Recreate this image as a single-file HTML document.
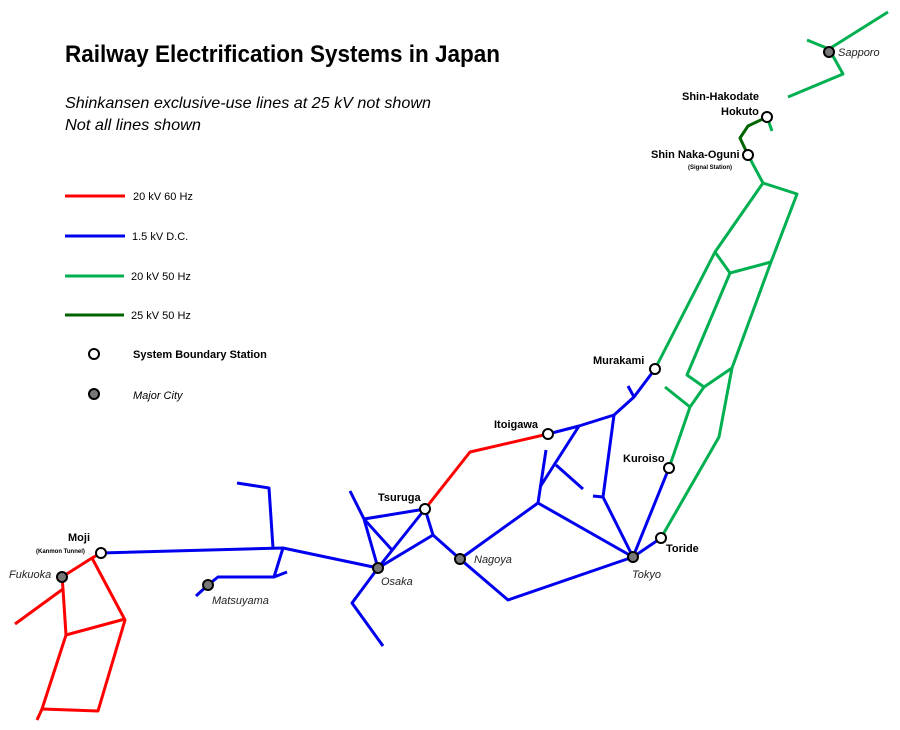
<!DOCTYPE html>
<html><head><meta charset="utf-8"><style>html,body{margin:0;padding:0;background:#fff}svg{display:block}</style></head>
<body>
<svg width="900" height="730" viewBox="0 0 900 730" xmlns="http://www.w3.org/2000/svg" font-family="Liberation Sans, sans-serif">
<text x="65" y="62" font-size="24" font-weight="bold" textLength="435" lengthAdjust="spacingAndGlyphs">Railway Electrification Systems in Japan</text>
<text x="65" y="108" font-size="16" font-style="italic" textLength="366" lengthAdjust="spacingAndGlyphs">Shinkansen exclusive-use lines at 25 kV not shown</text>
<text x="65" y="130" font-size="16" font-style="italic" textLength="136" lengthAdjust="spacingAndGlyphs">Not all lines shown</text>
<g stroke-width="3">
<line x1="65" y1="196" x2="125" y2="196" stroke="#ff0000"/>
<line x1="65" y1="236" x2="125" y2="236" stroke="#0000ee"/>
<line x1="65" y1="276" x2="124" y2="276" stroke="#00b050"/>
<line x1="65" y1="315" x2="124" y2="315" stroke="#006400"/>
</g>
<g font-size="11">
<text x="133" y="200">20 kV 60 Hz</text>
<text x="132" y="240">1.5 kV D.C.</text>
<text x="131" y="280">20 kV 50 Hz</text>
<text x="131" y="319">25 kV 50 Hz</text>
<text x="133" y="358" font-weight="bold">System Boundary Station</text>
<text x="133" y="399" font-style="italic">Major City</text>
</g>
<g fill="none" stroke-width="3" stroke-linejoin="round">
<!-- red -->
<g stroke="#ff0000">
<polyline points="62,577 92,558 125,620 98,711 42,709 37,720"/>
<polyline points="62,577 63,589 66,635 125,619"/>
<polyline points="63,589 15,624"/>
<polyline points="66,635 42,709"/>
<polyline points="92,558 101,553"/>
<polyline points="425,509 470,452 548,434"/>
</g>
<!-- blue -->
<g stroke="#0000ee">
<polyline points="101,553 283,548 378,568"/>
<polyline points="237,483 269,488 273,548"/>
<polyline points="283,548 274,577 287,572"/>
<polyline points="274,577 218,577 208,585 196,596"/>
<polyline points="350,491 364,519 378,568"/>
<polyline points="364,519 425,509"/>
<polyline points="364,519 392,550"/>
<polyline points="378,568 425,509 433,535 378,568"/>
<polyline points="433,535 460,559 508,600 633,557"/>
<polyline points="378,568 352,603 383,646"/>
<polyline points="460,559 538,503 633,557"/>
<polyline points="548,434 579,426 614,415 634,397 655,369"/>
<polyline points="634,397 628,386"/>
<polyline points="614,415 603,497 633,557"/>
<polyline points="593,496 603,497"/>
<polyline points="579,426 540,487"/>
<polyline points="546,450 538,503"/>
<polyline points="556,465 583,489"/>
<polyline points="633,557 669,468"/>
<polyline points="633,557 661,538"/>
</g>
<!-- green -->
<g stroke="#00b050">
<polyline points="807,40 829,49 888,12"/>
<polyline points="829,49 843,74 788,97"/>
<polyline points="767,117 772,131"/>
<polyline points="748,155 763,183 797,194 771,262 732,368 719,437 661,538"/>
<polyline points="763,183 715,252 655,369"/>
<polyline points="715,252 730,273 771,262"/>
<polyline points="730,273 687,375 704,387 732,368"/>
<polyline points="704,387 690,407 669,468"/>
<polyline points="690,407 665,387"/>
</g>
<polyline stroke="#006400" points="767,117 748,126 740,138 748,155"/>
</g>
<!-- stations -->
<g stroke="#000" stroke-width="2" fill="#fff">
<circle cx="94" cy="354" r="5"/>
<circle cx="101" cy="553" r="5"/>
<circle cx="425" cy="509" r="5"/>
<circle cx="548" cy="434" r="5"/>
<circle cx="655" cy="369" r="5"/>
<circle cx="669" cy="468" r="5"/>
<circle cx="661" cy="538" r="5"/>
<circle cx="748" cy="155" r="5"/>
<circle cx="767" cy="117" r="5"/>
</g>
<g stroke="#000" stroke-width="2" fill="#777">
<circle cx="94" cy="394" r="5"/>
<circle cx="62" cy="577" r="5"/>
<circle cx="208" cy="585" r="5"/>
<circle cx="378" cy="568" r="5"/>
<circle cx="460" cy="559" r="5"/>
<circle cx="633" cy="557" r="5"/>
<circle cx="829" cy="52" r="5"/>
</g>
<g font-size="11" font-weight="bold">
<text x="68" y="541">Moji</text>
<text x="378" y="501">Tsuruga</text>
<text x="494" y="428">Itoigawa</text>
<text x="593" y="364">Murakami</text>
<text x="623" y="462">Kuroiso</text>
<text x="666" y="552">Toride</text>
<text x="651" y="158">Shin Naka-Oguni</text>
<text x="682" y="100">Shin-Hakodate</text>
<text x="721" y="115">Hokuto</text>
<text x="36" y="553" font-size="6">(Kanmon Tunnel)</text>
<text x="688" y="169" font-size="6">(Signal Station)</text>
</g>
<g font-size="11" font-style="italic" fill="#222">
<text x="9" y="578">Fukuoka</text>
<text x="212" y="604">Matsuyama</text>
<text x="381" y="585">Osaka</text>
<text x="474" y="563">Nagoya</text>
<text x="632" y="578">Tokyo</text>
<text x="838" y="56">Sapporo</text>
</g>
</svg>
</body></html>
